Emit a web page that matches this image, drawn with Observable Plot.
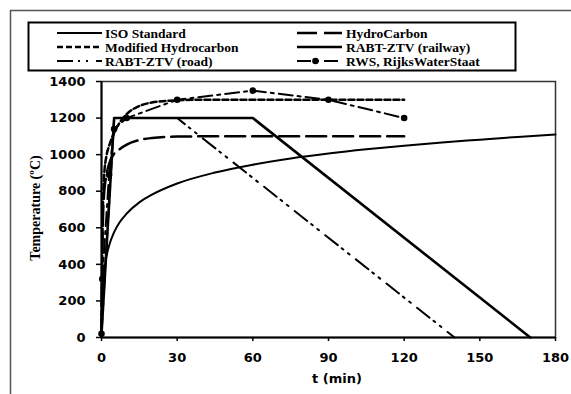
<!DOCTYPE html>
<html>
<head>
<meta charset="utf-8">
<script src="https://cdn.jsdelivr.net/npm/d3@7"></script>
<script src="https://cdn.jsdelivr.net/npm/@observablehq/plot@0.6"></script>
<style>
html, body { margin: 0; padding: 0; background: #fff; }
#chart svg { display: block; }
</style>
</head>
<body>
<div id="chart"></div>
<script>
// ---- data ----
const xTicks = [0, 30, 60, 90, 120, 150, 180];
const yTicks = [0, 200, 400, 600, 800, 1000, 1200, 1400];

const isoTime = [0, 0.5, 1, 2, 3, 5, 7, 10, 15, 20, 30, 45, 60, 75, 90, 105, 120, 135, 150, 165, 180];
const isoTemp = [20, 261, 349, 445, 502, 576, 626, 678, 739, 781, 842, 902, 945, 979, 1006, 1029, 1049, 1067, 1082, 1097, 1110];

const hcTime = [0, 0.5, 1, 2, 3, 5, 7, 10, 15, 20, 30, 40, 60, 90, 120];
const hcTemp = [20, 600, 780, 890, 950, 1005, 1028, 1055, 1080, 1091, 1099, 1100, 1100, 1100, 1100];

const mhcTime = [0, 0.5, 1, 2, 3, 5, 7, 10, 15, 20, 30, 40, 60, 90, 120];
const mhcTemp = [20, 670, 877, 996, 1047, 1120, 1171, 1222, 1266, 1285, 1297, 1300, 1300, 1300, 1300];

const railTime = [0, 5, 60, 170];
const railTemp = [20, 1200, 1200, 0];

const roadTime = [0, 5, 30, 140];
const roadTemp = [20, 1200, 1200, 0];

const rwsTime = [0, 0.3, 3, 5, 10, 30, 60, 90, 120];
const rwsTemp = [20, 320, 890, 1140, 1200, 1300, 1350, 1300, 1200];

const seriesNames = ["ISO Standard", "HydroCarbon", "Modified Hydrocarbon", "RABT-ZTV (railway)", "RABT-ZTV (road)", "RWS, RijksWaterStaat"];

// ---- styles ----
const styles = {
  "ISO Standard": {dash: null, w: 2},
  "HydroCarbon": {dash: "20,7", w: 2.5},
  "Modified Hydrocarbon": {dash: "6,3", w: 2.5},
  "RABT-ZTV (railway)": {dash: null, w: 2.6},
  "RABT-ZTV (road)": {dash: "16,5,2,6,2,8", w: 2},
  "RWS, RijksWaterStaat": {dash: "14,5,3,5", w: 2}
};

const toRows = (t, v) => t.map((d, i) => ({t: d, T: v[i]}));
const iso = toRows(isoTime, isoTemp);
const hc = toRows(hcTime, hcTemp);
const mhc = toRows(mhcTime, mhcTemp);
const rail = toRows(railTime, railTemp);
const road = toRows(roadTime, roadTemp);
const rws = toRows(rwsTime, rwsTemp);

function lineOpts(name, curve) {
  const s = styles[name];
  const o = {x: "t", y: "T", stroke: "black", strokeWidth: s.w, curve: curve || "linear"};
  if (s.dash) o.strokeDasharray = s.dash;
  return o;
}

const W = 571, H = 394;
const tickFont = "bold 13px 'DejaVu Sans', sans-serif";

const svg = Plot.plot({
  width: W,
  height: H,
  marginLeft: 101,
  marginRight: 16,
  marginTop: 81,
  marginBottom: 57,
  style: {background: "#fff", color: "black", fontFamily: "'DejaVu Sans', sans-serif", fontSize: "13px", fontWeight: "bold", overflow: "visible"},
  x: {domain: [0, 180], ticks: xTicks, label: null},
  y: {domain: [0, 1400], ticks: yTicks, label: null},
  marks: [
    Plot.frame({stroke: "#333", strokeWidth: 1.5}),
    Plot.axisX({ticks: xTicks, tickFormat: "d", tickSize: 4, tickPadding: 11, label: null, stroke: "black", strokeWidth: 1.5}),
    Plot.axisY({ticks: yTicks, tickFormat: "d", tickSize: 5, tickPadding: 11, label: null, stroke: "black", strokeWidth: 1.5}),
    Plot.line(iso, lineOpts("ISO Standard", "monotone-x")),
    Plot.line(hc, lineOpts("HydroCarbon", "monotone-x")),
    Plot.line(mhc, lineOpts("Modified Hydrocarbon", "monotone-x")),
    Plot.line(road, lineOpts("RABT-ZTV (road)")),
    Plot.line(rail, lineOpts("RABT-ZTV (railway)")),
    Plot.line(rws, lineOpts("RWS, RijksWaterStaat")),
    Plot.dot(rws, {x: "t", y: "T", r: 3.3, fill: "black", stroke: "none"}),
    Plot.ruleX([0], {stroke: "black", strokeWidth: 2}),
    Plot.ruleY([0], {stroke: "black", strokeWidth: 2})
  ]
});

const root = d3.select(svg);
// outer page border (cropped on right/bottom in the reference)
root.insert("rect", ":first-child")
  .attr("x", 10.5).attr("y", 10.5).attr("width", 700).attr("height", 600)
  .attr("fill", "none").attr("stroke", "#555").attr("stroke-width", 1.5);

// axis titles
root.append("text")
  .attr("x", 337).attr("y", 383)
  .attr("text-anchor", "middle")
  .style("font", tickFont)
  .text("t (min)");
root.append("text")
  .attr("transform", "translate(40,208) rotate(-90)")
  .attr("text-anchor", "middle")
  .style("font", "bold 14px 'Liberation Serif', serif")
  .text("Temperature (ºC)");

// legend
const lg = root.append("g");
lg.append("rect").attr("x", 28.5).attr("y", 22.5).attr("width", 487).attr("height", 48)
  .attr("fill", "#fff").attr("stroke", "black").attr("stroke-width", 2);
const cols = [{x0: 57, x1: 102, tx: 105}, {x0: 297, x1: 342, tx: 346}];
const rowsY = [33, 47, 61];
seriesNames.forEach((name, i) => {
  const c = cols[i % 2], y = rowsY[Math.floor(i / 2)];
  const s = styles[name];
  const ln = lg.append("line").attr("x1", c.x0).attr("x2", c.x1).attr("y1", y).attr("y2", y)
    .attr("stroke", "black").attr("stroke-width", s.w);
  if (s.dash) ln.attr("stroke-dasharray", s.dash);
  if (name.startsWith("RWS")) {
    lg.append("circle").attr("cx", (c.x0 + c.x1) / 2 - 4).attr("cy", y).attr("r", 3.3).attr("fill", "black");
  }
  lg.append("text").attr("x", c.tx).attr("y", y).attr("dy", "0.35em")
    .attr("text-anchor", "start")
    .style("font", "bold 13.5px 'Liberation Serif', serif")
    .text(name);
});

document.getElementById("chart").appendChild(svg);
</script>
</body>
</html>
